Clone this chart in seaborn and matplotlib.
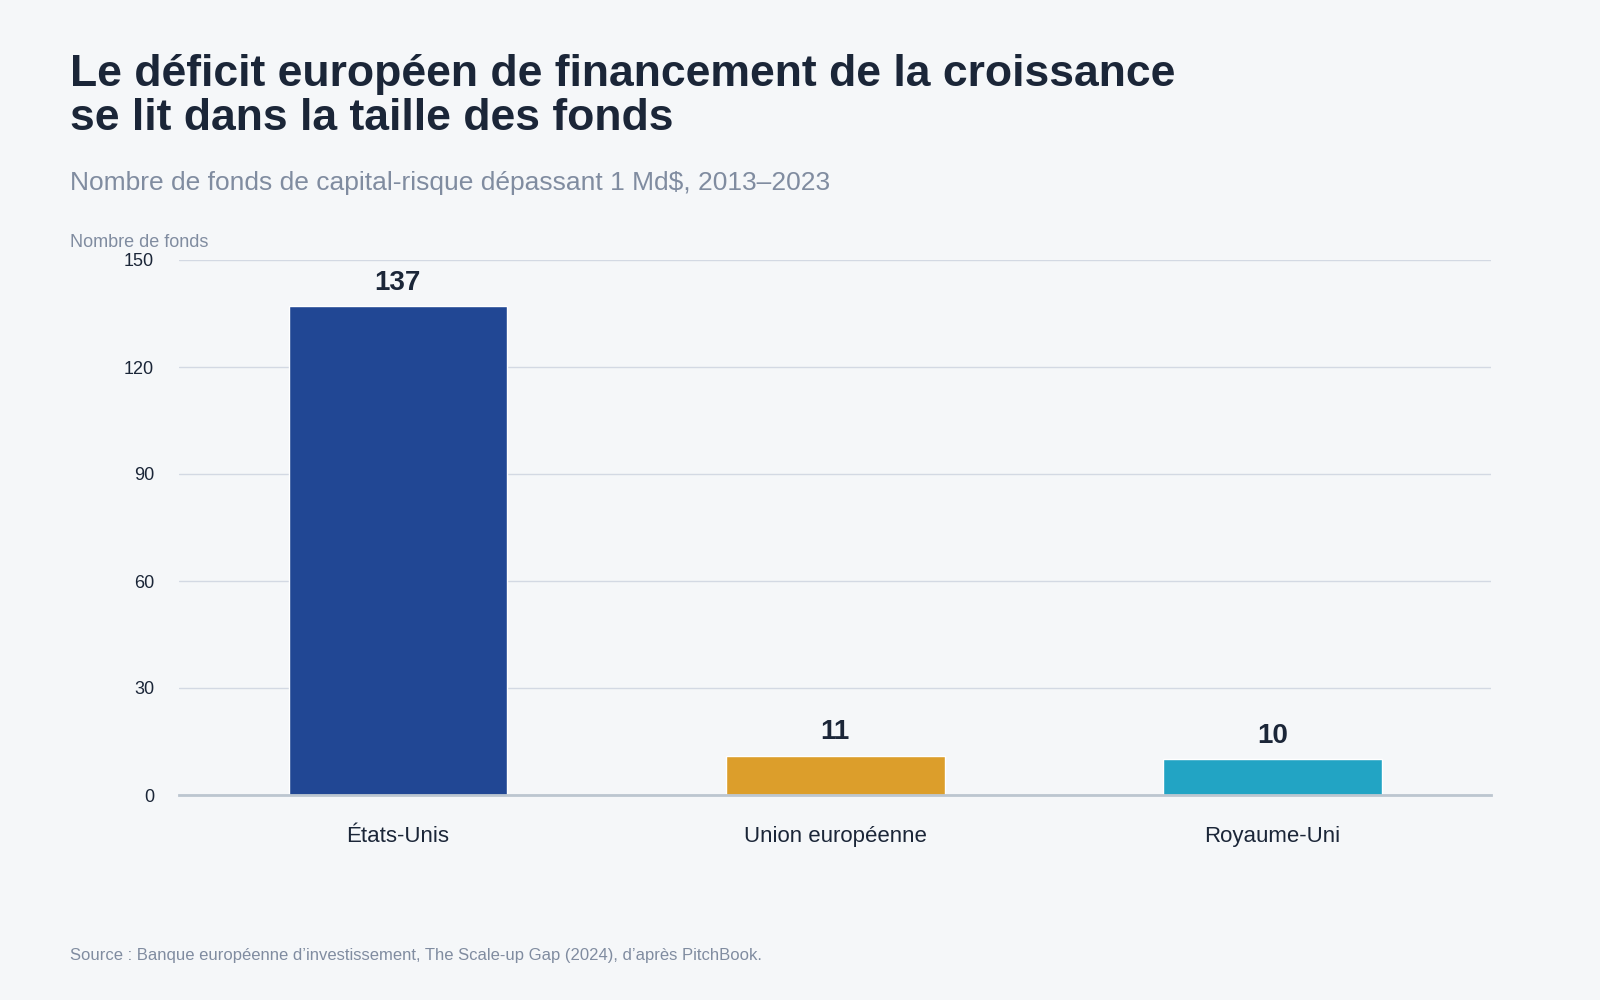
import matplotlib
matplotlib.use('Agg')
import matplotlib.pyplot as plt
import seaborn as sns
import pandas as pd

regions = ['États-Unis', 'Union européenne', 'Royaume-Uni']
funds = [137, 11, 10]
colors = ['#214794', '#dc9e2b', '#22a4c4']

sns.set_theme(style='white')
plt.rcParams['font.family'] = ['Liberation Sans', 'DejaVu Sans']

bg = '#f5f7f9'
fig = plt.figure(figsize=(16, 10), dpi=100, facecolor=bg)
ax = fig.add_axes([0.112, 0.205, 0.82, 0.535], facecolor=bg)

df = pd.DataFrame({'region': regions, 'funds': funds})
sns.barplot(data=df, x='region', y='funds', hue='region', palette=colors,
            legend=False, width=0.5, ax=ax, saturation=1)

ax.set_ylim(0, 150)
ax.set_yticks([0, 30, 60, 90, 120, 150])
ax.grid(axis='y', color='#d3d9e3', linewidth=1)
ax.set_axisbelow(True)
for s in ['top', 'right', 'left']:
    ax.spines[s].set_visible(False)
ax.spines['bottom'].set_color('#bcc6d0')
ax.spines['bottom'].set_linewidth(2)
ax.tick_params(axis='y', length=0, labelsize=13, labelcolor='#1b2638', pad=18)
ax.tick_params(axis='x', length=0, labelsize=16, labelcolor='#1b2638', pad=22)
ax.set_xlabel('')
ax.set_ylabel('')
for i, v in enumerate(funds):
    ax.text(i, v + 3, str(v), ha='center', va='bottom', fontsize=20,
            fontweight='bold', color='#1b2638')

fig.text(0.044, 0.87, 'Le déficit européen de financement de la croissance\nse lit dans la taille des fonds',
         fontsize=32, fontweight='bold', color='#1b2638', linespacing=1.1)
fig.text(0.044, 0.81, 'Nombre de fonds de capital-risque dépassant 1 Md$, 2013–2023',
         fontsize=19, color='#808ca0')
fig.text(0.044, 0.753, 'Nombre de fonds', fontsize=13, color='#808ca0')
fig.text(0.044, 0.04, "Source : Banque européenne d’investissement, The Scale-up Gap (2024), d’après PitchBook.",
         fontsize=12, color='#808ca0')

fig.savefig('out.png', facecolor=bg)
